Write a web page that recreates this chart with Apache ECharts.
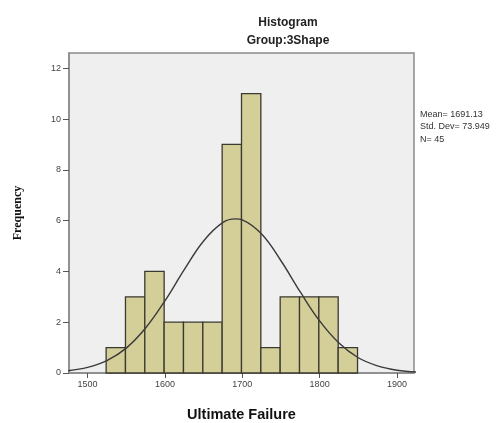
<!DOCTYPE html>
<html>
<head>
<meta charset="utf-8">
<script src="https://cdn.jsdelivr.net/npm/echarts@6/dist/echarts.min.js"></script>
<style>
html, body { margin: 0; padding: 0; background: #fff; }
#main { width: 497px; height: 423px; }
</style>
</head>
<body>
<div id="main"></div>
<script>
// histogram bins (lower edge of each bin) and counts
const binLo = [1524, 1549, 1574, 1599, 1624, 1649, 1674, 1699, 1724, 1749, 1774, 1799, 1824];
const binWidth = 25;
const counts = [1, 3, 4, 2, 2, 2, 9, 11, 1, 3, 3, 3, 1];

// normal curve
const curveX = [1475, 1500, 1525, 1550, 1575, 1600, 1625, 1650, 1675, 1691, 1700, 1725, 1750, 1775, 1800, 1825, 1850, 1875, 1900, 1925];
const curveY = [0.09, 0.22, 0.49, 0.98, 1.77, 2.84, 4.07, 5.20, 5.93, 6.07, 6.03, 5.47, 4.42, 3.19, 2.05, 1.18, 0.60, 0.28, 0.11, 0.04];

const xTicks = [1500, 1600, 1700, 1800, 1900];
const yTicks = [0, 2, 4, 6, 8, 10, 12];
const stats = ['Mean= 1691.13', 'Std. Dev= 73.949', 'N= 45'];

var myChart = echarts.init(document.getElementById('main'));

var barData = [];
for (let i in binLo) {
    barData.push([binLo[i], binLo[i] + binWidth, counts[i]]);
}
var lineData = [];
for (let i in curveX) {
    lineData.push([curveX[i], curveY[i]]);
}

var option = {
    animation: false,
    backgroundColor: '#fff',
    title: [
        {
            text: 'Histogram',
            left: 283, top: 12, textAlign: 'center',
            textStyle: { fontFamily: 'Arial, Liberation Sans', fontSize: 12, fontWeight: 'bold', color: '#222' }
        },
        {
            text: 'Group:3Shape',
            left: 283, top: 30, textAlign: 'center',
            textStyle: { fontFamily: 'Arial, Liberation Sans', fontSize: 12, fontWeight: 'bold', color: '#222' }
        }
    ],
    grid: {
        left: 69, top: 53, right: 83, bottom: 50,
        outerBoundsMode: 'none',
        containLabel: false,
        show: true,
        backgroundColor: '#efefef',
        borderColor: '#8a8a8a',
        borderWidth: 1.5
    },
    xAxis: {
        type: 'value',
        min: 1476, max: 1922,
        name: 'Ultimate Failure',
        nameLocation: 'middle',
        nameGap: 34,
        nameTextStyle: { fontFamily: 'Arial, Liberation Sans', fontSize: 14.5, fontWeight: 'bold', color: '#111' },
        splitLine: { show: false },
        axisLine: { lineStyle: { color: '#8a8a8a', width: 1.5 } },
        axisTick: { customValues: xTicks, length: 5, lineStyle: { color: '#555' } },
        axisLabel: {
            customValues: xTicks, margin: 7,
            formatter: function (v) { return String(v); },
            fontFamily: 'Arial, Liberation Sans', fontSize: 9, color: '#444'
        }
    },
    yAxis: {
        type: 'value',
        min: 0, max: 12.6,
        name: 'Frequency',
        nameLocation: 'middle',
        nameGap: 45,
        nameTextStyle: { fontFamily: 'Liberation Serif, Times New Roman', fontSize: 12, fontWeight: 'bold', color: '#111' },
        splitLine: { show: false },
        axisLine: { show: true, lineStyle: { color: '#8a8a8a', width: 1.5 } },
        axisTick: { show: true, customValues: yTicks, length: 6, lineStyle: { color: '#555' } },
        axisLabel: { customValues: yTicks, margin: 8, fontFamily: 'Arial, Liberation Sans', fontSize: 9, color: '#444' }
    },
    graphic: [
        {
            type: 'text', left: 420, top: 108,
            style: { text: stats.join('\n'), lineHeight: 12.5, font: '9px Arial, Liberation Sans', fill: '#333' }
        }
    ],
    series: [
        {
            type: 'custom',
            data: barData,
            encode: { x: [0, 1], y: 2 },
            renderItem: function (params, api) {
                var p0 = api.coord([api.value(0), api.value(2)]);
                var p1 = api.coord([api.value(1), 0]);
                return {
                    type: 'rect',
                    shape: { x: p0[0], y: p0[1], width: p1[0] - p0[0], height: p1[1] - p0[1] },
                    style: { fill: '#d4cf98', stroke: '#3a3a30', lineWidth: 1.3 }
                };
            },
            z: 2
        },
        {
            type: 'line',
            data: lineData,
            smooth: 0.4,
            showSymbol: false,
            clip: true,
            lineStyle: { color: '#3a3a3a', width: 1.4 },
            z: 3
        }
    ]
};

myChart.setOption(option);
</script>
</body>
</html>
